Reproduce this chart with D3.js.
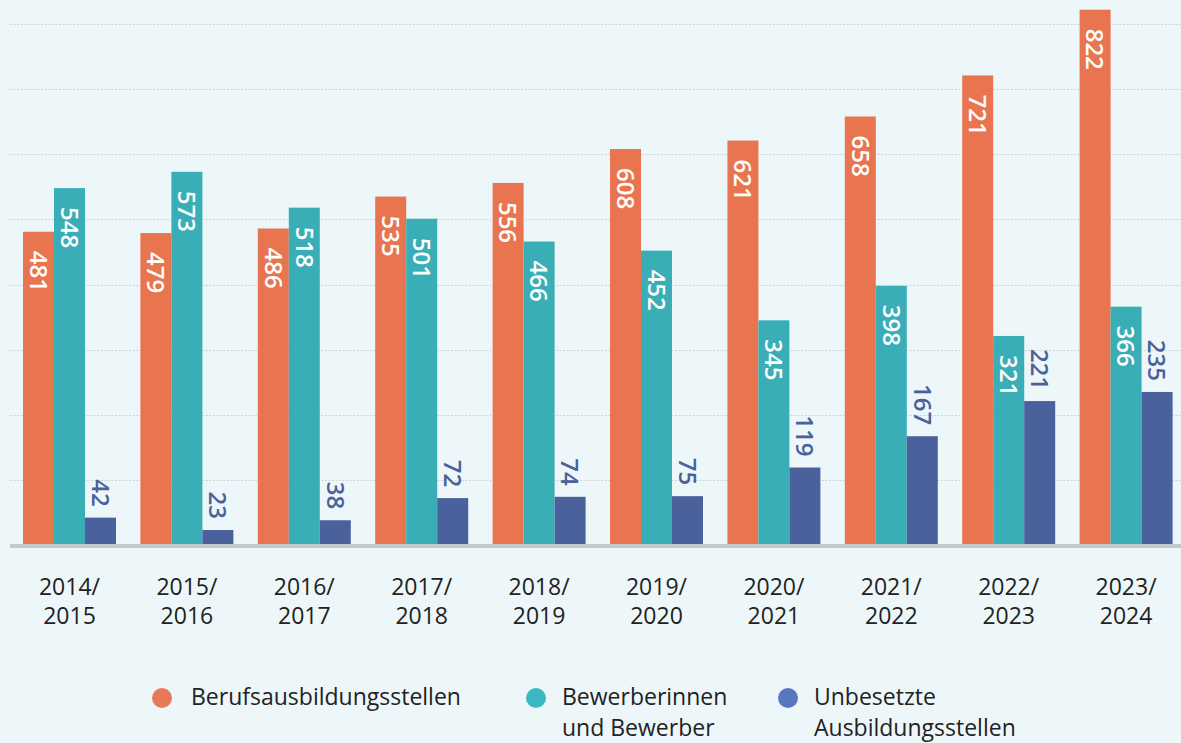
<!DOCTYPE html>
<html lang="de">
<head>
<meta charset="utf-8">
<script src="https://cdn.jsdelivr.net/npm/d3@7/dist/d3.min.js"></script>
<style>
  html, body { margin: 0; padding: 0; background: #edf7f9; }
  svg { display: block; }
  text { font-family: "Open Sans", "Noto Sans", sans-serif; }
</style>
</head>
<body>
<svg id="chart" width="1181" height="743"></svg>
<script>
// School years (two-line labels)
const years = ["2014/2015", "2015/2016", "2016/2017", "2017/2018", "2018/2019",
               "2019/2020", "2020/2021", "2021/2022", "2022/2023", "2023/2024"];

// Series values
const berufsausbildungsstellen = [481, 479, 486, 535, 556, 608, 621, 658, 721, 822];
const bewerber = [548, 573, 518, 501, 466, 452, 345, 398, 321, 366];
const unbesetzt = [42, 23, 38, 72, 74, 75, 119, 167, 221, 235];

// Gridline values
const gridTicks = [100, 200, 300, 400, 500, 600, 700, 800];

const seriesKeys = ["beruf", "bewerber", "unbesetzt"];
const seriesValues = { beruf: berufsausbildungsstellen, bewerber: bewerber, unbesetzt: unbesetzt };
const barColors = { beruf: "#e8754f", bewerber: "#3aaeb7", unbesetzt: "#4a619b" };
const legendColors = { beruf: "#e8785a", bewerber: "#3cb8c2", unbesetzt: "#5a76c0" };
const legendLabels = {
  beruf: ["Berufsausbildungsstellen"],
  bewerber: ["Bewerberinnen", "und Bewerber"],
  unbesetzt: ["Unbesetzte", "Ausbildungsstellen"]
};

const svg = d3.select("#chart");

const x0 = d3.scaleBand().domain(years).range([10.8, 1184.8])
  .paddingInner(0.208).paddingOuter(0.104);
const x1 = d3.scaleBand().domain(seriesKeys).range([0, x0.bandwidth()]);
const y = d3.scaleLinear().domain([0, 800]).range([545, 24]);

// Dotted gridlines
svg.append("g").selectAll("line").data(gridTicks).join("line")
  .attr("x1", 10).attr("x2", 1181)
  .attr("y1", d => Math.round(y(d)) + 0.5).attr("y2", d => Math.round(y(d)) + 0.5)
  .attr("stroke", "#cdd4d6").attr("stroke-width", 1)
  .attr("stroke-dasharray", "2,1.5");

// Bars
const groups = svg.append("g").selectAll("g").data(years).join("g")
  .attr("transform", d => `translate(${x0(d)},0)`);

groups.each(function (yr, i) {
  const g = d3.select(this);
  seriesKeys.forEach(k => {
    const v = seriesValues[k][i];
    g.append("rect")
      .attr("x", x1(k)).attr("width", x1.bandwidth())
      .attr("y", y(v)).attr("height", y(0) - y(v))
      .attr("fill", barColors[k]);

    const cx = x1(k) + x1.bandwidth() / 2;
    const inside = k !== "unbesetzt";
    const ty = inside ? y(v) + 19 : y(v) - 11;
    g.append("text")
      .attr("transform", `translate(${cx},${ty}) rotate(90)`)
      .attr("dy", "0.36em")
      .attr("text-anchor", inside ? "start" : "end")
      .attr("fill", inside ? "#ffffff" : barColors.unbesetzt)
      .attr("font-size", 24)
      .attr("font-weight", 600)
      .text(v);
  });
});

// Baseline
svg.append("rect").attr("x", 10).attr("y", y(0) - 1).attr("width", 1171).attr("height", 4)
  .attr("fill", "#c4c9cb");

// Category labels
const catLabels = svg.append("g").selectAll("text").data(years).join("text")
  .attr("x", d => x0(d) + x0.bandwidth() / 2)
  .attr("y", 595)
  .attr("text-anchor", "middle")
  .attr("font-size", 23)
  .attr("font-weight", 500)
  .attr("fill", "#222222");
catLabels.each(function (d) {
  const parts = d.split("/");
  const t = d3.select(this);
  t.append("tspan").attr("x", x0(d) + x0.bandwidth() / 2).text(parts[0] + "/");
  t.append("tspan").attr("x", x0(d) + x0.bandwidth() / 2).attr("dy", 29).text(parts[1]);
});

// Legend: one text element per line
const legendX = { beruf: 162, bewerber: 536, unbesetzt: 788 };
const legend = svg.append("g").selectAll("g").data(seriesKeys).join("g")
  .attr("transform", k => `translate(${legendX[k]},698)`);
legend.append("circle").attr("r", 10).attr("fill", k => legendColors[k]);
legend.each(function (k) {
  const g = d3.select(this);
  const tx = k === "beruf" ? 29 : 26;
  legendLabels[k].forEach((line, j) => {
    g.append("text")
      .attr("x", tx).attr("y", 7 + j * 31)
      .attr("font-size", 23)
      .attr("font-weight", 500)
      .attr("fill", "#222222")
      .text(line);
  });
});
</script>
</body>
</html>
